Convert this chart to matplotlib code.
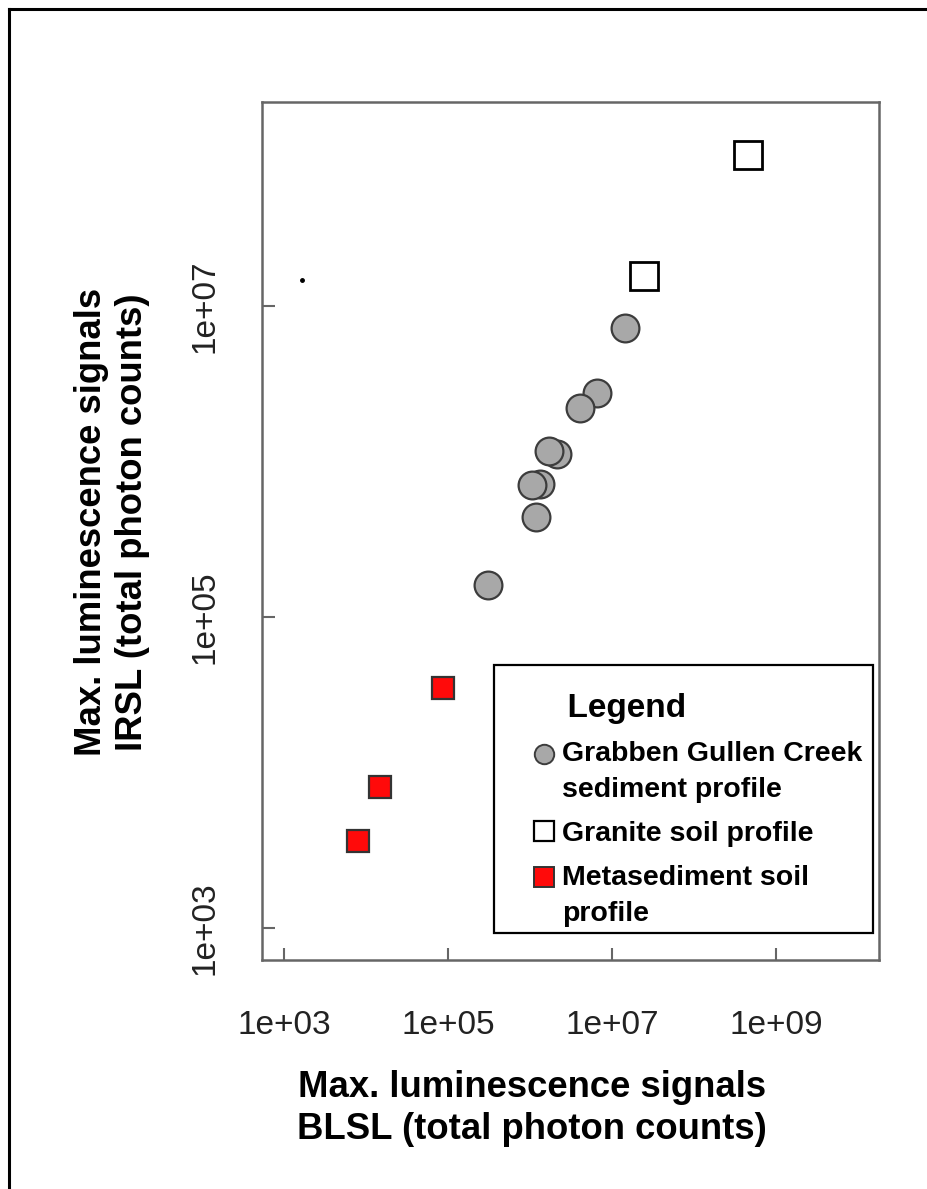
import matplotlib
matplotlib.use("Agg")
import matplotlib.pyplot as plt
from matplotlib.lines import Line2D
from matplotlib.patches import Rectangle
from matplotlib.transforms import Affine2D
from matplotlib.legend_handler import HandlerLine2D
from matplotlib.ticker import FixedLocator, FuncFormatter

plt.rcParams['font.family'] = ['Liberation Sans', 'DejaVu Sans']

# max luminescence signals (total photon counts)
creek_blsl = [1.45e7, 6.6e6, 4.1e6, 2.15e6, 1.7e6, 1.32e6, 1.05e6, 1.17e6, 3.1e5]
creek_irsl = [7.2e6, 2.75e6, 2.2e6, 1.12e6, 1.17e6, 7.2e5, 7.1e5, 4.4e5, 1.6e5]
granite_blsl = [4.6e8, 2.45e7]
granite_irsl = [9.3e7, 1.55e7]
meta_blsl = [8.7e4, 1.5e4, 8.1e3]
meta_irsl = [3.5e4, 8.1e3, 3.6e3]
stray_blsl = [1.66e3]
stray_irsl = [1.48e7]

x_ticks = [1e3, 1e5, 1e7, 1e9]
y_ticks = [1e3, 1e5, 1e7]
legend_labels = ["Grabben Gullen Creek\nsediment profile",
                 "Granite soil profile",
                 "Metasediment soil\nprofile"]


class FirstLineHandler(HandlerLine2D):
    # put the marker next to the first line of a two-line label
    def create_artists(self, legend, orig_handle, xdescent, ydescent, width,
                       height, fontsize, trans):
        raised = Affine2D().translate(0, 13.5) + trans
        return super().create_artists(legend, orig_handle, xdescent, ydescent,
                                      width, height, fontsize, raised)


fig = plt.figure(figsize=(9.28, 11.89), dpi=100)
ax = fig.add_axes([0.2823, 0.1926, 0.6649, 0.7216])

ax.plot(creek_blsl, creek_irsl, ls='none', marker='o', ms=20, mfc='#a8a8a8',
        mec='#3c3c3c', mew=1.6)
ax.plot(granite_blsl, granite_irsl, ls='none', marker='s', ms=20, mfc='white',
        mec='black', mew=2.0)
ax.plot(meta_blsl, meta_irsl, ls='none', marker='s', ms=16.5, mfc='#ff0a0a',
        mec='#333333', mew=1.6)
ax.plot(stray_blsl, stray_irsl, ls='none', marker='o', ms=2.5, color='black')

ax.set_xscale('log')
ax.set_yscale('log')
ax.set_xlim(10**2.732, 10**10.256)
ax.set_ylim(10**2.794, 10**8.312)

fmt = FuncFormatter(lambda v, p: f"{v:.0e}")
ax.xaxis.set_major_locator(FixedLocator(x_ticks))
ax.yaxis.set_major_locator(FixedLocator(y_ticks))
ax.xaxis.set_major_formatter(fmt)
ax.yaxis.set_major_formatter(fmt)
ax.minorticks_off()
ax.tick_params(axis='both', direction='in', length=9, width=1.5, color='#666666',
               labelsize=24, labelcolor='#222222')
ax.tick_params(axis='x', pad=36)
ax.tick_params(axis='y', pad=30)
for lbl in ax.get_yticklabels():
    lbl.set_rotation(90)
    lbl.set_va('center')

for sp in ax.spines.values():
    sp.set_color('#666666')
    sp.set_linewidth(1.8)

fig.text(0.573, 0.068, "Max. luminescence signals\nBLSL (total photon counts)",
         ha='center', va='center', fontsize=26.3, fontweight='bold', linespacing=1.25)
fig.text(0.1207, 0.561, "Max. luminescence signals\nIRSL (total photon counts)",
         ha='center', va='center', rotation=90, fontsize=26.3, fontweight='bold',
         linespacing=1.25)

# legend: box drawn separately so the entries can sit a little low in it
ax.add_patch(Rectangle((0.376, 0.0315), 0.614, 0.3125, transform=ax.transAxes,
                       facecolor='white', edgecolor='black', lw=1.6, zorder=4.9))
handles = [
    Line2D([], [], ls='none', marker='o', ms=14, mfc='#a8a8a8', mec='#3c3c3c', mew=1.4),
    Line2D([], [], ls='none', marker='s', ms=15, mfc='white', mec='black', mew=1.6),
    Line2D([], [], ls='none', marker='s', ms=15, mfc='#ff0a0a', mec='#333333', mew=1.4),
]
leg = ax.legend(handles, legend_labels, title="      Legend", loc='upper left',
                bbox_to_anchor=(0.376, 0.032, 0.614, 0.30), mode='expand',
                frameon=False, prop={'size': 20.5, 'weight': 'bold'},
                title_fontproperties={'size': 24, 'weight': 'bold'},
                handlelength=2.3, handletextpad=-0.53, labelspacing=0.62,
                borderpad=0.62, borderaxespad=0, alignment='left',
                handler_map={handles[0]: FirstLineHandler(),
                             handles[2]: FirstLineHandler()})
for t in leg.get_texts():
    t.set_linespacing(1.5)

# page frame lines
fig.add_artist(Line2D([9 / 928, 1], [1 - 9 / 1189] * 2, color='black', lw=2.2,
                      transform=fig.transFigure))
fig.add_artist(Line2D([9 / 928] * 2, [0, 1 - 9 / 1189], color='black', lw=2.2,
                      transform=fig.transFigure))

fig.savefig("out.png", dpi=100, facecolor='white')
